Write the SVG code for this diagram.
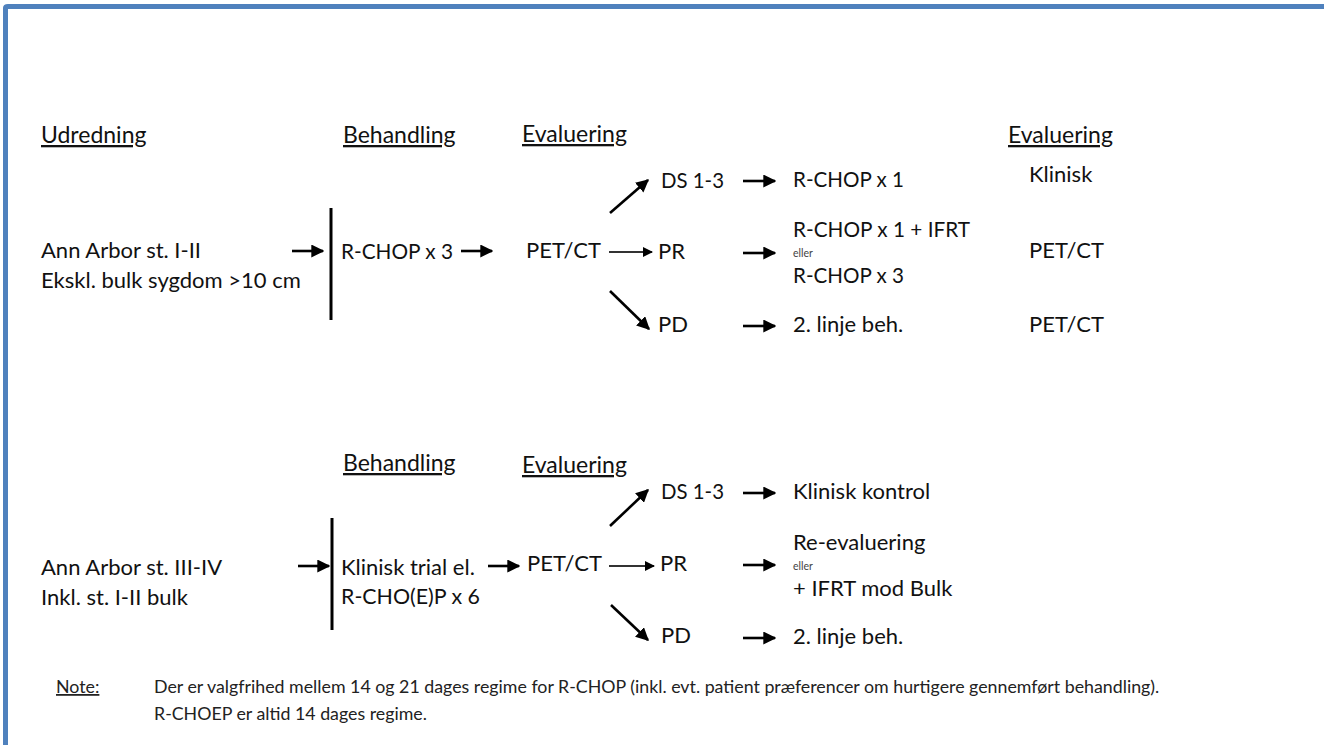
<svg xmlns="http://www.w3.org/2000/svg" width="1324" height="745" viewBox="0 0 1324 745">
<style>
text{font-family:Lato,"Open Sans","Liberation Sans",sans-serif;fill:#111;font-size:22px}
.h{text-decoration:underline;font-size:23px}
.s{font-size:10.5px;fill:#444}
.n{font-size:17.8px;fill:#222}
.nh{text-decoration:underline}
.a{stroke:#000;stroke-width:2.6;fill:none;marker-end:url(#ah)}
.t{stroke:#333;stroke-width:2;fill:none;marker-end:url(#ah)}
.bar{stroke:#000;stroke-width:3}
</style>
<defs>
<marker id="ah" viewBox="0 0 10 10" refX="9" refY="5" markerWidth="5" markerHeight="5" orient="auto" markerUnits="strokeWidth">
<path d="M0,0 L10,5 L0,10 z" fill="#000"/>
</marker>
</defs>
<rect width="1324" height="745" fill="#fff"/>
<g id="frame">
<path d="M5.5,745 V8 Q5.5,6.5 8,6.5 H1324" stroke="#4f81bd" stroke-width="5" fill="none"/>
</g>
<g id="headers">
<text x="41" y="143" class="h">Udredning</text>
<text x="343" y="143" class="h">Behandling</text>
<text x="522" y="142" class="h">Evaluering</text>
<text x="1008" y="143" class="h">Evaluering</text>
<text x="343" y="471" class="h">Behandling</text>
<text x="522" y="473" class="h">Evaluering</text>
</g>
<g id="top-input"><text x="41" y="258">Ann Arbor st. I-II</text><text x="41" y="288">Ekskl. bulk sygdom &gt;10 cm</text></g>
<g id="top-treat"><line class="bar" x1="331" y1="208" x2="331" y2="320"/><text x="341" y="259" textLength="112" lengthAdjust="spacingAndGlyphs">R-CHOP x 3</text></g>
<g id="top-pet"><text x="526" y="258">PET/CT</text></g>
<g id="top-ds"><text x="661" y="188" textLength="63" lengthAdjust="spacingAndGlyphs">DS 1-3</text></g>
<g id="top-pr"><text x="658" y="259">PR</text></g>
<g id="top-pd"><text x="658" y="332">PD</text></g>
<g id="top-ds-res"><text x="793" y="187" textLength="111" lengthAdjust="spacingAndGlyphs">R-CHOP x 1</text></g>
<g id="top-pr-res"><text x="793" y="237" textLength="177" lengthAdjust="spacingAndGlyphs">R-CHOP x 1 + IFRT</text><text x="793" y="257" class="s">eller</text><text x="793" y="283" textLength="111" lengthAdjust="spacingAndGlyphs">R-CHOP x 3</text></g>
<g id="top-pd-res"><text x="793" y="332">2. linje beh.</text></g>
<g id="top-eval"><text x="1029" y="182">Klinisk</text><text x="1029" y="258">PET/CT</text><text x="1029" y="332">PET/CT</text></g>

<g id="bot-input"><text x="41" y="575">Ann Arbor st. III-IV</text><text x="41" y="605">Inkl. st. I-II bulk</text></g>
<g id="bot-treat"><line class="bar" x1="332" y1="518" x2="332" y2="630"/><text x="341" y="575">Klinisk trial el.</text><text x="341" y="604" textLength="139" lengthAdjust="spacingAndGlyphs">R-CHO(E)P x 6</text></g>
<g id="bot-pet"><text x="527" y="571">PET/CT</text></g>
<g id="bot-ds"><text x="661" y="499" textLength="63" lengthAdjust="spacingAndGlyphs">DS 1-3</text></g>
<g id="bot-pr"><text x="660" y="571">PR</text></g>
<g id="bot-pd"><text x="661" y="643">PD</text></g>
<g id="bot-ds-res"><text x="793" y="499">Klinisk kontrol</text></g>
<g id="bot-pr-res"><text x="793" y="550">Re-evaluering</text><text x="793" y="570" class="s">eller</text><text x="793" y="596">+ IFRT mod Bulk</text></g>
<g id="bot-pd-res"><text x="793" y="644">2. linje beh.</text></g>

<g id="connectors">
<line class="a" x1="292" y1="251" x2="323" y2="251"/>
<line class="a" x1="461" y1="251" x2="492" y2="251"/>
<line class="a" x1="610" y1="213" x2="648" y2="180"/>
<line class="t" x1="609" y1="252" x2="652" y2="252"/>
<line class="a" x1="610" y1="291" x2="649" y2="329"/>
<line class="a" x1="743" y1="181" x2="775" y2="181"/>
<line class="a" x1="743" y1="253" x2="775" y2="253"/>
<line class="a" x1="743" y1="326" x2="775" y2="326"/>
<line class="a" x1="298" y1="566" x2="329" y2="566"/>
<line class="a" x1="488" y1="566" x2="519" y2="566"/>
<line class="a" x1="610" y1="526" x2="648" y2="490"/>
<line class="t" x1="609" y1="566" x2="654" y2="566"/>
<line class="a" x1="611" y1="605" x2="648" y2="640"/>
<line class="a" x1="743" y1="493" x2="775" y2="493"/>
<line class="a" x1="743" y1="565" x2="775" y2="565"/>
<line class="a" x1="743" y1="638" x2="775" y2="638"/>
</g>
<g id="note">
<text x="56" y="693" class="n nh">Note:</text>
<text x="154" y="693" class="n">Der er valgfrihed mellem 14 og 21 dages regime for R-CHOP (inkl. evt. patient præferencer om hurtigere gennemført behandling).</text>
<text x="154" y="720" class="n">R-CHOEP er altid 14 dages regime.</text>
</g>
</svg>
